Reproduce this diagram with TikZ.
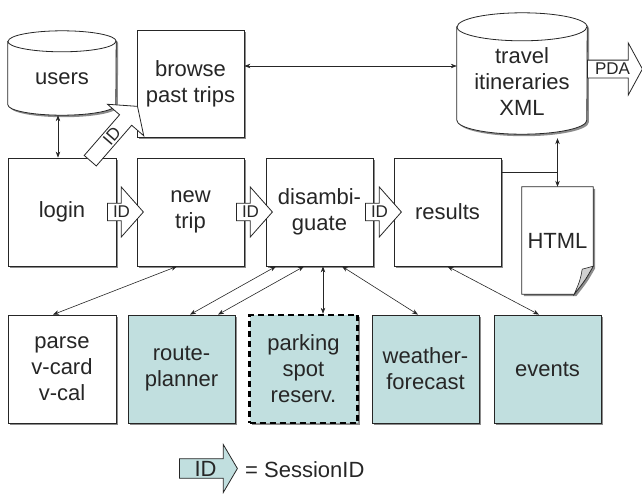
\documentclass[tikz,border=0pt]{standalone}
\usepackage{fontspec}
\setmainfont{Liberation Sans}
\usetikzlibrary{shapes.arrows,shadows,arrows.meta,backgrounds}

\definecolor{svcteal}{RGB}{193,223,223}
\definecolor{ink}{RGB}{38,38,38}

\tikzset{
  boxshadow/.style={drop shadow={shadow xshift=2pt,shadow yshift=-2pt,fill=black!45,opacity=1}},
  celltext/.style={inner sep=0pt,align=center,text=ink,font=\fontsize{22}{26}\selectfont},
  stagebox/.style={celltext,draw=ink,fill=white,line width=0.8pt,minimum width=108pt,minimum height=108pt,boxshadow},
  servicebox/.style={stagebox,fill=svcteal},
  drum/.style={draw=ink,fill=white,line width=0.8pt},
  idarrow/.style={shape=single arrow,draw=ink,fill=white,line width=0.8pt,inner sep=0pt,text=ink,font=\fontsize{17}{17}\selectfont,minimum width=50pt,single arrow head extend=11.5pt,single arrow tip angle=97,minimum height=36pt,anchor=tail},
  link/.style={draw=ink,line width=0.6pt,<->,>={Stealth[length=6pt,width=4.5pt]}},
  wire/.style={draw=ink,line width=0.8pt}
}

\begin{document}
\begin{tikzpicture}[x=1pt,y=-1pt]
\useasboundingbox (0,0) rectangle (642,493);

%Shape: Can
\node[inner sep=0pt,minimum width=108pt,minimum height=84pt] (users) at (62,73) {};
\path[drum,boxshadow] ([yshift=-10.5pt]users.north west) -- ([yshift=10.5pt]users.south west)
  arc[start angle=180,end angle=360,x radius=54pt,y radius=10.5pt] -- ([yshift=-10.5pt]users.north east)
  arc[start angle=0,end angle=180,x radius=54pt,y radius=10.5pt] -- cycle;
\draw[drum,fill=none] ([yshift=-10.5pt]users.north west) arc[start angle=180,end angle=360,x radius=54pt,y radius=10.5pt];
\node[celltext] (userstext) at (62,79) {users};

%Shape: Rectangle
\node[stagebox,minimum width=107pt,minimum height=107pt] (browse) at (190.5,83.5) {browse\\past trips};

%Shape: Can
\node[inner sep=0pt,minimum width=130pt,minimum height=121pt] (itin) at (522,73.5) {};
\path[drum,boxshadow] ([yshift=-14pt]itin.north west) -- ([yshift=14pt]itin.south west)
  arc[start angle=180,end angle=360,x radius=65pt,y radius=14pt] -- ([yshift=-14pt]itin.north east)
  arc[start angle=0,end angle=180,x radius=65pt,y radius=14pt] -- cycle;
\draw[drum,fill=none] ([yshift=-14pt]itin.north west) arc[start angle=180,end angle=360,x radius=65pt,y radius=14pt];
\node[celltext] (itintext) at (522,82) {travel\\itineraries\\XML};

%Shape: Arrow
\node[idarrow,minimum width=52pt,single arrow head extend=12pt,single arrow tip angle=123,minimum height=55pt] (pda) at (587,69) {PDA};

%Shape: Rectangle
\node[stagebox] (login) at (62,212) {login};
\node[stagebox,minimum width=107pt] (newtrip) at (190.5,212) {new\\trip};
\node[stagebox,minimum width=107pt] (disamb) at (319.5,212) {disambi-\\guate};
\node[stagebox,minimum width=107pt] (results) at (447.5,212) {results};

%Shape: Document
\node[celltext,minimum width=71pt,minimum height=107pt] (html) at (557.5,240.5) {HTML};
\begin{scope}[on background layer]
\path[draw=ink,fill=white,line width=0.8pt,boxshadow] (html.north west) -- (html.north east) -- ([yshift=28pt]html.south east)
  .. controls ([xshift=-8pt,yshift=14pt]html.south east) .. ([xshift=-19pt]html.south east) -- (html.south west) -- cycle;
\path[draw=ink,fill=black!18,line width=0.6pt] ([yshift=28pt]html.south east) -- ([xshift=-11pt,yshift=25pt]html.south east)
  .. controls ([xshift=-13pt,yshift=14pt]html.south east) .. ([xshift=-19pt]html.south east)
  .. controls ([xshift=-8pt,yshift=14pt]html.south east) .. cycle;
\end{scope}

%Shape: Rectangle
\node[stagebox] (parse) at (62,369) {parse\\v-card\\v-cal};
\node[servicebox,minimum width=107pt] (route) at (181.5,369) {route-\\planner};
\node[servicebox,draw=black,line width=2.4pt,dash pattern=on 6pt off 4pt] (parking) at (303.5,369) {parking\\spot\\reserv.};
\node[servicebox,minimum width=107pt] (weather) at (425.5,369) {weather-\\forecast};
\node[servicebox,minimum width=107pt] (events) at (547.5,369) {events};

%Shape: Arrow
\node[idarrow] (id1) at (107,212) {ID};
\node[idarrow] (id2) at (236,212) {ID};
\node[idarrow] (id3) at (365,212) {ID};
\node[idarrow,rotate=49,minimum width=48pt,single arrow head extend=12.5pt,single arrow tip angle=106,minimum height=72pt] (id0) at (90,161) {ID};

%Straight Lines
\draw[link] ([xshift=-4pt]users.south) -- ([xshift=-4pt]login.north);
\draw[link] ([yshift=17.5pt]browse.east) -- ([yshift=7.5pt]itin.west);
\coordinate (split) at (557.5,172);
\draw[wire] ([yshift=40pt]results.east) -- (split);
\draw[link] (html.north) -- ([yshift=-4pt]html.north |- itin.south);

\draw[link] ([xshift=-13.5pt]newtrip.south) -- ([xshift=-9pt]parse.north);
\draw[link] ([xshift=-43.5pt]disamb.south) -- ([xshift=8.5pt]route.north);
\draw[link] ([xshift=-15.5pt]disamb.south) -- ([xshift=36.5pt]route.north);
\draw[link] ([xshift=3.5pt]disamb.south) -- ([xshift=19.5pt]parking.north);
\draw[link] ([xshift=22.5pt]disamb.south) -- ([xshift=-7.5pt]weather.north);
\draw[link] (results.south) -- ([xshift=-8.5pt]events.north);

% Text Node
\node[idarrow,fill=svcteal,font=\fontsize{22}{22}\selectfont,minimum width=48pt,single arrow head extend=11.5pt,single arrow tip angle=119,minimum height=58pt] (key) at (179,468.5) {ID};
\node[anchor=west,inner sep=0pt,text=ink,font=\fontsize{22}{22}\selectfont] (keytext) at (245,470) {= SessionID};

\end{tikzpicture}
\end{document}
